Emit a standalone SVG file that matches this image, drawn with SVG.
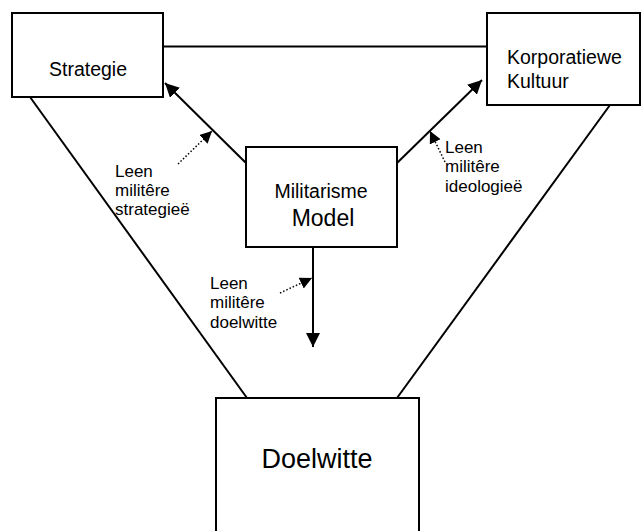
<svg xmlns="http://www.w3.org/2000/svg" width="644" height="531" viewBox="0 0 644 531">
<style>
.box{fill:#fff;stroke:#000;stroke-width:2}
.ln{fill:none;stroke:#000;stroke-width:2}
.dot{fill:none;stroke:#000;stroke-width:1.5;stroke-dasharray:1.5 2}
text{font-family:"Liberation Sans",Arial,sans-serif;fill:#000}
.lbl{font-size:17px}
</style>
<defs>
<marker id="ah" viewBox="0 0 10 10" refX="10" refY="5" markerWidth="7" markerHeight="7" orient="auto" markerUnits="strokeWidth"><path d="M0,0 L10,5 L0,10 z" fill="#000"/></marker>
<marker id="dh" viewBox="0 0 10 10" refX="10" refY="5" markerWidth="8" markerHeight="8" orient="auto" markerUnits="strokeWidth"><path d="M0,0 L10,5 L0,10 z" fill="#000"/></marker>
</defs>
<g id="connectors">
<line class="ln" x1="163" y1="46.5" x2="487" y2="46.5"/>
<line class="ln" x1="30" y1="97" x2="247" y2="398"/>
<line class="ln" x1="610" y1="105" x2="397" y2="398"/>
<line class="ln" x1="246" y1="163" x2="165" y2="83" marker-end="url(#ah)"/>
<line class="ln" x1="397" y1="163" x2="482" y2="80" marker-end="url(#ah)"/>
<line class="ln" x1="313" y1="247" x2="313" y2="347" marker-end="url(#ah)"/>
<line class="dot" x1="178" y1="164" x2="212" y2="131" marker-end="url(#dh)"/>
<line class="dot" x1="445" y1="162" x2="430" y2="131" marker-end="url(#dh)"/>
<line class="dot" x1="280" y1="293" x2="312" y2="278" marker-end="url(#dh)"/>
</g>
<g id="strategie">
<rect class="box" x="12" y="13" width="151" height="84"/>
<text x="88" y="76" font-size="19.5" text-anchor="middle">Strategie</text>
</g>
<g id="korporatiewe">
<rect class="box" x="487" y="13" width="153" height="92"/>
<text x="507" y="64" font-size="19.5">Korporatiewe</text>
<text x="507" y="88" font-size="19.5">Kultuur</text>
</g>
<g id="militarisme">
<rect class="box" x="246" y="147" width="151" height="100"/>
<text x="321" y="198" font-size="19.5" text-anchor="middle">Militarisme</text>
<text x="323" y="226" font-size="23" text-anchor="middle">Model</text>
</g>
<g id="doelwitte">
<rect class="box" x="216" y="398" width="203" height="150"/>
<text x="317" y="468" font-size="27" text-anchor="middle">Doelwitte</text>
</g>
<g id="label-strategiee">
<text class="lbl" x="115" y="177">Leen</text>
<text class="lbl" x="115" y="196">militêre</text>
<text class="lbl" x="115" y="215">strategieë</text>
</g>
<g id="label-ideologiee">
<text class="lbl" x="445" y="153">Leen</text>
<text class="lbl" x="445" y="172">militêre</text>
<text class="lbl" x="445" y="191.5">ideologieë</text>
</g>
<g id="label-doelwitte">
<text class="lbl" x="210" y="289">Leen</text>
<text class="lbl" x="210" y="308">militêre</text>
<text class="lbl" x="210" y="327.5">doelwitte</text>
</g>
</svg>
